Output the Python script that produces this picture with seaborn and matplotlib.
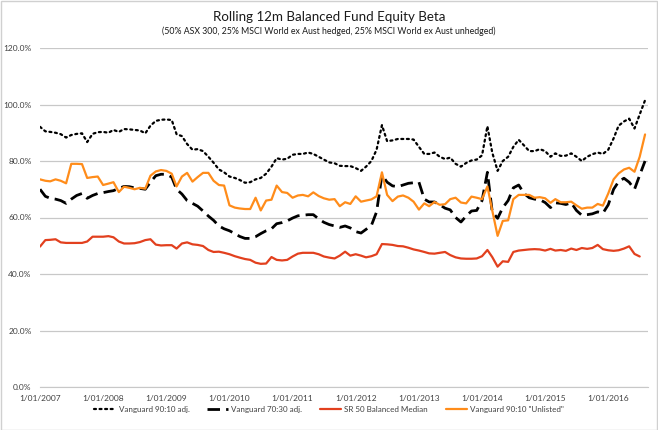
import numpy as np
import pandas as pd
import matplotlib
matplotlib.use("Agg")
import matplotlib.pyplot as plt
import matplotlib.ticker as mtick
import matplotlib.dates as mdates
import seaborn as sns

# monthly observations, Jan 2007 onwards (values in %)
v9010_adj = [
    92.1, 90.5, 90.3, 90.0, 89.5, 88.3, 89.2, 89.6, 89.8, 86.7, 89.6, 90.2,
    90.3, 90.0, 91.0, 90.3, 91.3, 91.2, 91.0, 90.8, 89.8, 92.5, 94.2, 94.6,
    94.7, 94.5, 89.5, 88.8, 86.0, 84.0, 84.2, 83.5, 81.5, 79.4, 77.0, 76.0,
    74.5, 74.0, 73.3, 72.3, 72.5, 73.5, 74.0, 75.5, 78.0, 81.0, 80.5, 80.8,
    82.2, 82.5, 82.5, 83.0, 82.5, 81.5, 80.5, 79.5, 79.2, 78.3, 78.2, 78.2,
    77.5, 76.5, 78.0, 80.0, 84.0, 92.7, 87.0, 87.3, 87.8, 87.8, 87.8, 87.6,
    85.0, 82.5, 82.5, 83.0, 81.5, 80.7, 81.2, 79.0, 78.0, 79.3, 80.2, 80.5,
    82.0, 92.3, 83.0, 76.5, 80.0, 81.5, 85.0, 87.5, 85.5, 83.5, 83.5, 84.2,
    83.5, 81.5, 82.7, 81.8, 81.9, 82.7, 81.5, 80.0, 81.5, 82.4, 83.0, 82.5,
    84.0, 88.0, 92.5, 94.0, 95.0, 91.5, 96.5, 101.5,
]
v7030_adj = [
    70.0, 67.5, 66.8, 66.5, 66.0, 65.0, 66.5, 67.8, 68.5, 66.8, 67.8, 68.5,
    68.8, 69.2, 69.5, 70.3, 71.0, 70.9, 70.5, 70.3, 70.0, 72.5, 74.8, 75.3,
    75.3, 74.3, 70.0, 68.3, 66.0, 65.0, 64.0, 62.3, 60.5, 59.0, 57.0, 56.0,
    55.3, 54.3, 53.3, 52.6, 52.6, 53.2, 54.3, 55.3, 56.0, 57.8, 58.2, 58.8,
    59.8, 60.6, 60.8, 61.0, 61.0, 59.5, 58.3, 57.5, 57.0, 56.5, 57.0, 56.3,
    55.0, 54.5, 55.8, 57.2, 62.0, 75.0, 72.5, 71.2, 70.9, 71.5, 72.1, 72.3,
    72.5, 66.5, 65.5, 65.5, 64.5, 63.3, 62.7, 60.0, 58.4, 60.5, 62.3, 62.5,
    66.0, 76.0, 62.0, 59.7, 63.5, 66.0, 70.5, 71.5, 68.5, 67.0, 66.5, 66.3,
    65.3, 63.5, 65.2, 65.0, 64.6, 65.2, 62.5, 60.8, 61.0, 61.3, 62.0, 61.5,
    64.5, 70.0, 72.7, 73.9, 72.5, 70.0, 75.0, 80.0,
]
sr50_median = [
    49.7, 52.0, 52.1, 52.3, 51.2, 51.0, 51.0, 51.0, 51.0, 51.5, 53.2, 53.2,
    53.2, 53.4, 53.0, 51.5, 50.8, 50.8, 50.9, 51.3, 52.0, 52.3, 50.4, 50.1,
    50.2, 50.2, 49.0, 50.8, 51.2, 50.5, 50.3, 49.9, 48.5, 47.8, 47.9, 47.5,
    47.0, 46.3, 45.8, 45.3, 45.0, 44.0, 43.6, 43.7, 46.0, 45.0, 44.8, 45.0,
    46.2, 47.2, 47.5, 47.5, 47.5, 47.0, 46.2, 45.8, 45.5, 46.5, 47.9, 46.5,
    47.0, 46.5, 45.9, 46.3, 47.0, 50.6, 50.5, 50.3, 49.9, 49.8, 49.3, 48.7,
    48.3, 47.8, 47.3, 47.2, 47.5, 47.8, 46.7, 45.9, 45.5, 45.4, 45.4, 45.5,
    46.3, 48.5, 46.0, 42.6, 44.5, 44.3, 47.8, 48.3, 48.5, 48.7, 48.8, 48.7,
    48.3, 48.9, 48.3, 48.5, 48.2, 49.0, 48.5, 49.2, 48.9, 49.2, 50.3, 48.8,
    48.4, 48.2, 48.4, 49.0, 49.8, 47.1, 46.2,
]
v9010_unlisted = [
    73.5, 73.0, 72.8, 73.5, 73.0, 72.1, 79.0, 79.0, 78.9, 74.0, 74.3, 74.5,
    71.5, 72.0, 72.5, 69.0, 70.9, 70.5, 70.0, 70.5, 70.2, 74.8, 76.3, 76.8,
    76.5, 75.5, 71.0, 74.5, 75.8, 72.7, 74.3, 75.8, 75.8, 73.0, 71.5, 71.3,
    64.3, 63.5, 63.2, 63.0, 63.0, 67.0, 62.5, 66.0, 66.3, 71.3, 69.0, 68.7,
    67.0, 67.8, 68.0, 67.5, 68.9, 67.6, 66.8, 66.3, 66.5, 64.0, 65.4, 64.8,
    67.5, 65.6, 66.0, 66.4, 67.5, 76.0, 68.0, 65.8, 67.4, 67.8, 67.0, 65.6,
    62.8, 65.0, 64.0, 65.5, 64.5, 64.7, 66.5, 67.0, 65.3, 65.0, 67.4, 67.0,
    66.5, 71.0, 62.5, 53.5, 58.8, 59.0, 66.5, 68.0, 68.0, 68.0, 67.0, 67.2,
    66.8, 65.2, 66.5, 65.4, 65.4, 65.6, 64.3, 63.1, 63.5, 63.5, 64.8, 64.2,
    68.5, 73.5, 75.6, 77.0, 77.6, 76.2, 81.5, 89.4,
]

series_names = ["Vanguard 90:10 adj.", "Vanguard 70:30 adj.",
                "SR 50 Balanced Median", 'Vanguard 90:10 "Unlisted"']
year_ticks = [f"{y}-01-01" for y in range(2007, 2017)]

dates = pd.date_range("2007-01-01", periods=len(v9010_adj), freq="MS")

sns.set_style("white")
plt.rcParams["font.family"] = ["Lato", "DejaVu Sans"]

fig = plt.figure(figsize=(6.58, 4.30), dpi=100)
ax = fig.add_axes([40 / 658, 43 / 430, 608 / 658, 339 / 430])

styles = [
    dict(color="black", lw=1.6, ls=(0, (0.9, 1.6)), dash_capstyle="round"),
    dict(color="black", lw=2.0, ls=(0, (4.5, 2.2))),
    dict(color="#E2401E", lw=1.6, ls="-"),
    dict(color="#FF8C1A", lw=1.6, ls="-"),
]
for name, vals, st in zip(series_names,
                          [v9010_adj, v7030_adj, sr50_median, v9010_unlisted],
                          styles):
    sns.lineplot(x=dates[:len(vals)], y=vals, ax=ax, label=name,
                 color=st["color"], linewidth=st["lw"], linestyle=st["ls"],
                 dash_capstyle=st.get("dash_capstyle", "butt"))

ax.set_ylim(0, 120)
ax.set_yticks(np.arange(0, 121, 20))
ax.yaxis.set_major_formatter(mtick.PercentFormatter(xmax=100, decimals=1))
ax.set_xlim(pd.Timestamp("2007-01-01"), pd.Timestamp("2016-08-18"))
ax.set_xticks(pd.to_datetime(year_ticks))
ax.xaxis.set_major_formatter(
    mtick.FuncFormatter(lambda v, p: (lambda d: f"{d.day}/{d.month:02d}/{d.year}")(mdates.num2date(v))))
ax.grid(axis="y", color="#C8C8C8", lw=0.9)
ax.set_axisbelow(True)
for s in ["left", "right", "top"]:
    ax.spines[s].set_visible(False)
ax.spines["bottom"].set_color("#C8C8C8")
ax.tick_params(axis="both", length=0, labelsize=6, colors="#404040")
ax.tick_params(axis="y", pad=6)
ax.tick_params(axis="x", pad=6)
ax.set_xlabel("")
ax.set_ylabel("")
ax.legend_.remove()

fig.text(0.5, 0.960, "Rolling 12m Balanced Fund Equity Beta", ha="center", va="center",
         fontsize=9.6, color="#1a1a1a")
fig.text(0.5, 0.928, "(50% ASX 300, 25% MSCI World ex Aust hedged, 25% MSCI World ex Aust unhedged)",
         ha="center", va="center", fontsize=6.3, color="#1a1a1a")

handles, labels = ax.get_legend_handles_labels()
fig.legend(handles, labels, loc="center", bbox_to_anchor=(0.5, 0.048), ncol=4,
           frameon=False, fontsize=5.8, handlelength=2.6, columnspacing=2.2,
           handletextpad=0.4, labelcolor="#404040")

fig.patches.append(plt.Rectangle((0.001, 0.001), 0.997, 0.997, transform=fig.transFigure,
                                 fill=False, edgecolor="#D0D0D0", lw=1))

fig.savefig("out.png", dpi=100, facecolor="white")
